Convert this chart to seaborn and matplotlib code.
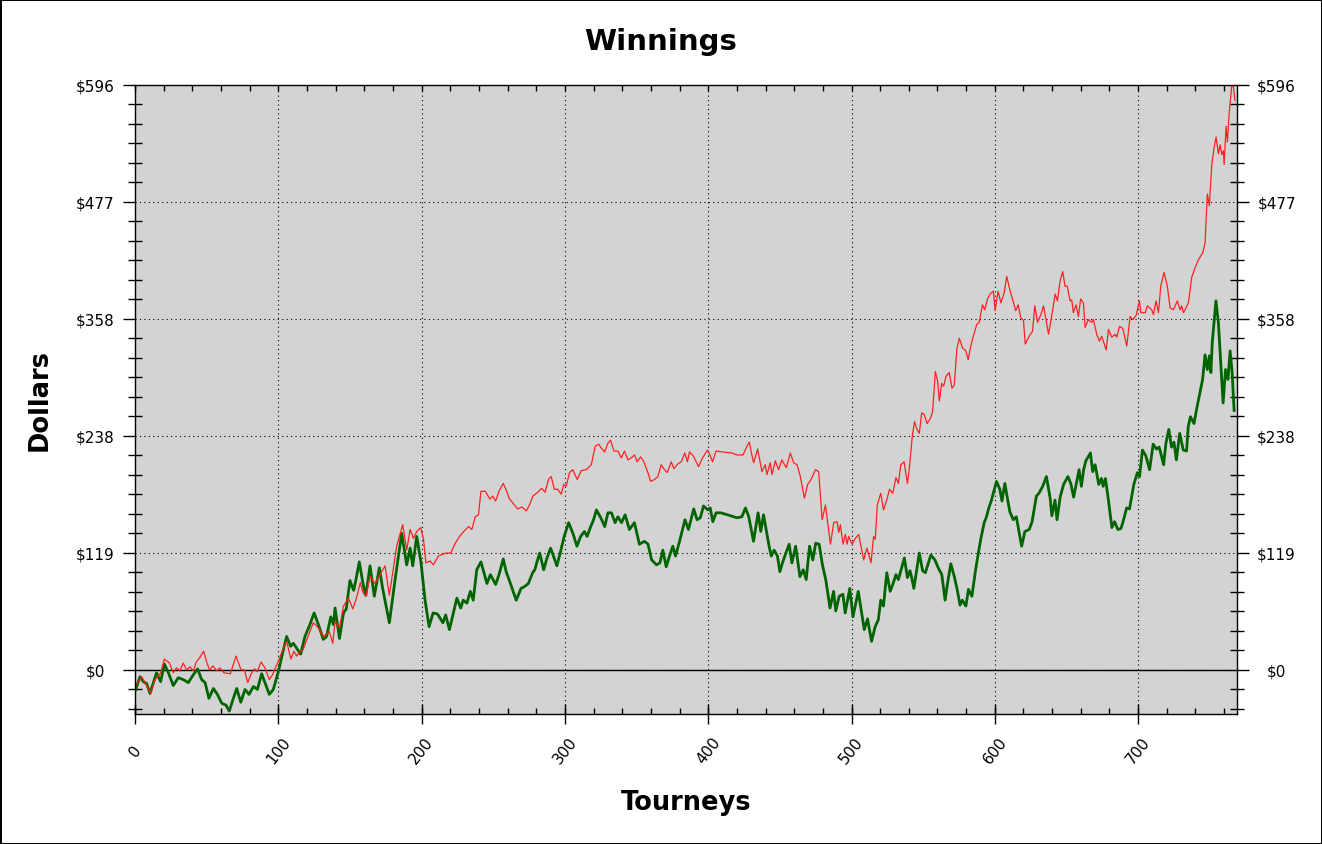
import matplotlib
matplotlib.use("Agg")
import matplotlib.pyplot as plt
from matplotlib.ticker import FixedLocator, MultipleLocator
import pandas as pd
import seaborn as sns

# cumulative winnings (tourney number, dollars)
green_tourney = [
    0, 3.5, 5.8, 8.1, 10.5, 15, 17.9, 20.5, 23.3, 26.7, 30.2, 33.7, 37.2, 40.7, 43.7, 46.5, 48.9, 51.6, 54.7, 57.5,
    60.5, 63.5, 65.8, 68.2, 71, 73.8, 76.8, 79.6, 82.6, 85.4, 88.4, 90.7, 93.7, 96.5, 100, 103, 105.8, 108.6, 110.5, 112.8,
    115.6, 118.6, 122, 125, 128, 131.4, 133.7, 136.6, 138.5, 139.6, 142.7, 145.5, 147.4, 150, 152.6, 153.8, 156.5, 159.2, 161.1, 164,
    167, 170.5, 172.8, 177.5, 181.5, 186.1, 189.6, 192, 193.8, 196.6, 199.6, 202.4, 205.2, 208, 211, 214.9, 216.8, 219.4, 224.6, 227.3,
    229, 231.6, 234, 236, 238.5, 241.4, 245.6, 248, 251.7, 254, 257, 259, 261, 263.4, 266, 269.4, 272, 274.5, 277.5, 279,
    280.5, 282.4, 285.2, 287.5, 290, 292, 294.4, 296.7, 299.5, 302.6, 305.6, 308.4, 311, 313.6, 315.5, 318, 320, 322, 325, 327.8,
    330, 332.5, 335, 337, 339.5, 342, 345, 348.5, 352, 355.5, 358, 360.5, 364, 366.3, 368.3, 370.7, 373, 375.3, 377.2, 380,
    383.8, 386.2, 389.9, 392.2, 394.5, 396.7, 399.7, 401.4, 403.2, 405.5, 408.8, 413.4, 420, 423.5, 426, 428.3, 431.6, 434.8, 436.7, 438.6,
    442.5, 444, 446, 448.3, 450, 451.8, 454.2, 456.5, 458.4, 461, 464, 466.3, 468.4, 470.7, 473, 475, 477.4, 479.7, 482, 485,
    487.5, 489, 491.4, 494, 495.6, 498.8, 501, 504.7, 508.9, 511.2, 514, 516.5, 518.7, 520.4, 522.3, 524.6, 527, 528.8, 531, 532.7,
    535, 536.9, 539, 540.8, 542, 543.5, 547.3, 549.6, 551.5, 555.4, 558.2, 560.5, 563, 565.3, 567.2, 569.3, 571.9, 574, 575.7, 577.3,
    579.8, 581.6, 584, 586.6, 588.5, 590.3, 592.6, 594.2, 595.8, 597.7, 599.3, 601.2, 603.5, 605, 607, 609, 610.5, 612.9, 615, 618.7,
    621, 624, 626, 629, 630.8, 633.4, 636, 638.6, 639.8, 642, 643.4, 645.6, 648, 651, 653, 655, 658.8, 660.4, 662, 663.5,
    666.7, 668.3, 670, 672.5, 674.4, 675.6, 677.2, 679, 681.7, 683.5, 685.9, 688, 689.5, 692, 694, 697, 699.5, 701, 703, 705.4,
    708, 710.5, 712.8, 714.7, 717.8, 719.4, 721.4, 723.3, 725, 726.7, 729, 731.5, 733.8, 735, 736.5, 739, 741, 743.3, 745, 746.7,
    748.3, 749.7, 750.8, 751.7, 754.3, 756, 757.4, 759.3, 761, 762.7, 764.2, 765.6, 767,
]
green_dollars = [
    -22, -7, -12, -14, -24, -3, -12, 6, -3, -16, -8, -10, -13, -5, 1, -10, -13, -29, -19, -25,
    -34, -36, -42, -31, -19, -33, -20, -25, -17, -20, -4, -13, -25, -20, -2, 17, 34, 24, 27, 22,
    16, 34, 46, 58, 46, 31, 34, 54, 46, 63, 32, 58, 62, 91, 81, 89, 110, 87, 76, 106,
    75, 104, 83, 48, 92, 139, 107, 124, 106, 136, 109, 71, 44, 58, 57, 48, 56, 41, 73, 63,
    71, 68, 80, 71, 102, 110, 88, 97, 87, 97, 113, 100, 92, 82, 71, 83, 85, 88, 99, 102,
    110, 119, 102, 114, 124, 116, 106, 119, 136, 150, 139, 126, 136, 141, 136, 146, 153, 163, 155, 146,
    160, 160, 150, 156, 150, 158, 143, 150, 128, 131, 128, 112, 107, 109, 122, 105, 116, 126, 116, 131,
    153, 143, 164, 153, 155, 167, 163, 165, 151, 160, 160, 158, 155, 156, 165, 156, 131, 160, 141, 158,
    126, 116, 122, 116, 100, 109, 119, 128, 109, 126, 95, 102, 92, 126, 112, 129, 128, 107, 92, 63,
    80, 60, 75, 77, 58, 83, 54, 80, 41, 52, 29, 44, 51, 71, 65, 99, 80, 87, 97, 92,
    104, 114, 94, 101, 94, 83, 119, 101, 99, 117, 112, 104, 97, 71, 90, 108, 94, 80, 66, 71,
    65, 82, 75, 102, 119, 134, 150, 156, 165, 173, 182, 192, 184, 172, 190, 173, 161, 153, 156, 126,
    141, 143, 151, 177, 180, 187, 197, 175, 157, 173, 153, 176, 189, 197, 190, 176, 204, 187, 204, 213,
    221, 202, 209, 189, 195, 187, 195, 176, 145, 151, 143, 144, 151, 165, 164, 189, 201, 197, 224, 218,
    204, 230, 225, 227, 209, 231, 245, 227, 232, 214, 241, 224, 223, 248, 258, 251, 267, 284, 296, 321,
    306, 320, 303, 333, 376, 354, 320, 272, 306, 296, 325, 303, 264,
]

red_tourney = [
    0, 4.7, 11, 13.9, 18, 20.5, 24, 26.7, 29, 31.3, 33.7, 36, 38.4, 40.7, 42.8, 45, 47.9, 50.2, 52, 54.4,
    57, 59.3, 62, 66.5, 70.5, 74, 76.3, 78.7, 81, 83.5, 85.2, 88, 90.7, 93.7, 96, 99.5, 103, 105.8, 108.8, 110.9,
    112.8, 115.1, 117.2, 120.7, 124.4, 127.9, 131.4, 135.6, 138, 139.6, 142.7, 145.5, 149, 152, 154.9, 157.2, 159, 161.1, 164, 167.5,
    171, 174.5, 177.5, 182.6, 186.8, 189.6, 192, 194.3, 196.6, 199.4, 201.3, 203, 206, 208.2, 211.7, 216.8, 220.3, 223.5, 226.5, 229.4,
    232.8, 235.1, 237.4, 239.7, 241.4, 244.4, 247.7, 249.6, 251.7, 254, 257, 259.4, 261, 264.7, 267, 270, 273, 275.3, 277.6, 281,
    283.8, 286.2, 288.5, 290.4, 292.7, 295, 297.4, 299.2, 300.9, 303.2, 305.5, 308.6, 311.4, 314.9, 318.4, 321.2, 323.5, 325.4, 327.7, 330,
    331.9, 334.2, 337, 339.3, 341.6, 344, 346.3, 348.6, 350.5, 352.8, 355.1, 357.9, 359.8, 362.6, 364.9, 367.2, 369.5, 371.4, 374.2, 376.1,
    378.9, 381.2, 383.6, 385.5, 386.9, 389.6, 393.3, 396, 399.5, 401.2, 403, 405.5, 410, 416.5, 420, 424.3, 425.9, 427.1, 428.7, 430.6,
    431.7, 434.5, 437.5, 439.8, 441, 443.3, 444.5, 446.8, 449.1, 451.4, 454.5, 457.3, 459.6, 462, 464.3, 467.1, 469.4, 471.8, 474.8, 477.1,
    479.5, 481.8, 485.3, 487.6, 489.9, 491.1, 492.2, 494.1, 495.7, 496.9, 498, 500.4, 502.7, 505, 508.5, 510.8, 513.6, 515.4, 516.6, 518,
    520.4, 522.3, 524.6, 526.5, 528.8, 531, 532.7, 534.4, 536.7, 539, 540.4, 542.4, 544, 545.4, 547.3, 549, 550.8, 552.7, 555, 556.6,
    558.5, 560.1, 561.3, 562.9, 564.3, 565.9, 568.2, 570.1, 571.7, 573.5, 575.2, 577.5, 579.8, 581.4, 582.8, 584.4, 587.4, 589.1, 591.4, 593,
    594.9, 596.7, 599, 600.2, 602.3, 604.2, 606.5, 608.3, 610.7, 612.3, 614.6, 616.3, 618.1, 620, 621.2, 624, 626.3, 627.9, 629.8, 632.1,
    634, 635.6, 637.5, 640.4, 642.1, 643.7, 645.5, 647.4, 649, 650.6, 652.5, 653.7, 654.8, 656.7, 658.3, 659.9, 661.8, 663, 665.3, 667.6,
    668.8, 671.1, 673, 674.6, 677.7, 679.3, 681.6, 684, 685.1, 687, 689.3, 692.1, 694.4, 696.3, 698.6, 700.9, 701.9, 704.9, 706.5, 709.5,
    710.7, 712.5, 714.2, 715.8, 718.1, 720.4, 722.3, 724.6, 727.4, 729.3, 730.4, 731.6, 732.8, 735.1, 737.4, 739.8, 742.1, 745.1, 746.7, 748.3,
    749.7, 751.4, 753, 754.4, 756, 757.2, 758.4, 759.5, 760, 761.4, 762.3, 763.7, 765.3, 766.5, 767.6,
]
red_dollars = [
    -17, -7, -24, -10, -3, 11, 7, -3, 2, -1, 7, 0, 3, -1, 8, 12, 19, 7, 0, 4,
    -1, 2, -3, -4, 14, 0, 0, -13, -4, 1, -2, 8, 2, -10, -5, 7, 20, 29, 11, 19,
    14, 19, 20, 34, 48, 43, 34, 39, 27, 49, 43, 65, 73, 62, 75, 89, 79, 75, 95, 88,
    97, 106, 76, 126, 148, 122, 143, 134, 141, 145, 133, 109, 111, 107, 116, 119, 119, 129, 136, 141,
    146, 143, 156, 158, 182, 182, 174, 177, 172, 182, 190, 182, 175, 168, 164, 166, 162, 168, 177, 181,
    185, 181, 194, 197, 184, 184, 179, 189, 187, 201, 204, 194, 203, 204, 209, 228, 230, 226, 222, 231,
    234, 223, 223, 216, 223, 214, 216, 219, 212, 217, 212, 201, 192, 194, 197, 209, 204, 201, 212, 205,
    210, 212, 221, 212, 222, 218, 207, 216, 224, 219, 212, 223, 222, 221, 219, 219, 224, 228, 232, 218,
    211, 225, 202, 209, 199, 211, 199, 213, 204, 214, 206, 221, 211, 209, 197, 175, 189, 194, 204, 202,
    153, 168, 128, 150, 151, 140, 148, 128, 138, 128, 136, 128, 134, 138, 112, 124, 109, 136, 133, 168,
    180, 163, 173, 184, 180, 196, 190, 209, 212, 190, 206, 238, 253, 246, 241, 262, 260, 251, 256, 263,
    304, 294, 274, 292, 289, 299, 303, 287, 290, 327, 338, 328, 325, 316, 327, 337, 352, 354, 372, 367,
    378, 383, 386, 366, 386, 374, 384, 401, 386, 378, 366, 372, 359, 356, 332, 340, 345, 371, 354, 362,
    371, 358, 342, 367, 383, 376, 396, 406, 391, 391, 376, 377, 364, 372, 360, 378, 374, 349, 357, 354,
    357, 342, 335, 340, 326, 347, 339, 342, 339, 350, 348, 330, 360, 357, 361, 376, 364, 364, 371, 367,
    362, 376, 364, 391, 405, 391, 369, 367, 376, 367, 371, 364, 367, 374, 400, 410, 418, 425, 435, 485,
    473, 515, 532, 543, 526, 535, 525, 529, 515, 554, 538, 570, 595, 594, 580,
]

x_ticks = [0, 100, 200, 300, 400, 500, 600, 700]
y_ticks = [0, 119.2, 238.4, 357.6, 476.8, 596]
y_labels = ["$0", "$119", "$238", "$358", "$477", "$596"]

green = pd.DataFrame({"tourney": green_tourney, "dollars": green_dollars})
red = pd.DataFrame({"tourney": red_tourney, "dollars": red_dollars})

sns.set_style("white")
plt.rcParams["font.family"] = ["DejaVu Sans"]
plt.rcParams.update({"text.color": "black", "axes.labelcolor": "black",
                     "xtick.color": "black", "ytick.color": "black"})

fig = plt.figure(figsize=(13.22, 8.45), dpi=100)
fig.patch.set_edgecolor("black")
fig.patch.set_linewidth(2)

ax = fig.add_axes([135 / 1322, 1 - 715 / 845, 1102 / 1322, 629 / 845])
ax.set_facecolor("#d3d3d3")
ax.set_axisbelow(True)

sns.lineplot(data=green, x="tourney", y="dollars", color="#006400", linewidth=2.0,
             estimator=None, sort=False, ax=ax)
sns.lineplot(data=red, x="tourney", y="dollars", color="#ff2020", linewidth=0.9,
             estimator=None, sort=False, ax=ax)
ax.axhline(0, color="black", linewidth=1.0, zorder=1.5)

ax.set_xlim(0, 769)
ax.set_ylim(-45, 596)

ax.xaxis.set_major_locator(FixedLocator(x_ticks))
ax.xaxis.set_minor_locator(MultipleLocator(20))
ax.xaxis.remove_overlapping_locs = False
ax.yaxis.set_major_locator(FixedLocator(y_ticks))
ax.yaxis.set_minor_locator(MultipleLocator(596 / 30))
ax.set_xticklabels([str(v) for v in x_ticks], rotation=52, ha="center", va="center")
ax.set_yticklabels(y_labels)

ax.grid(True, which="major", color="black", linestyle=(0, (1, 3)), linewidth=0.8)

ax.tick_params(axis="y", which="major", direction="out", length=8.5, width=1,
               left=True, right=True, labelleft=True, labelright=True,
               labelsize=11, pad=20)
ax.tick_params(axis="y", which="minor", direction="inout", length=10, width=1,
               left=True, right=True)
# bottom majors cross the spine, top ones come from the minor set (inward only)
ax.tick_params(axis="x", which="major", direction="inout", length=14, width=1,
               bottom=True, top=False, labelsize=11, pad=19)
ax.tick_params(axis="x", which="minor", direction="in", length=4.5, width=1,
               bottom=True, top=True)
for t in ax.yaxis.get_major_ticks():
    t.label1.set_horizontalalignment("center")
    t.label2.set_horizontalalignment("center")

for s in ax.spines.values():
    s.set_color("black")
    s.set_linewidth(1.0)

ax.set_xlabel("Tourneys", fontsize=18.5, fontweight="bold", va="center")
ax.xaxis.set_label_coords(0.5, -(803 - 715) / 629)
ax.set_ylabel("Dollars", fontsize=18.5, fontweight="bold", va="center", ha="center")
ax.yaxis.set_label_coords(-(135 - 40) / 1102, 0.5)

fig.text(0.5, 1 - 42 / 845, "Winnings", ha="center", va="center",
         fontsize=21, fontweight="bold")

fig.savefig("out.png", dpi=100)
